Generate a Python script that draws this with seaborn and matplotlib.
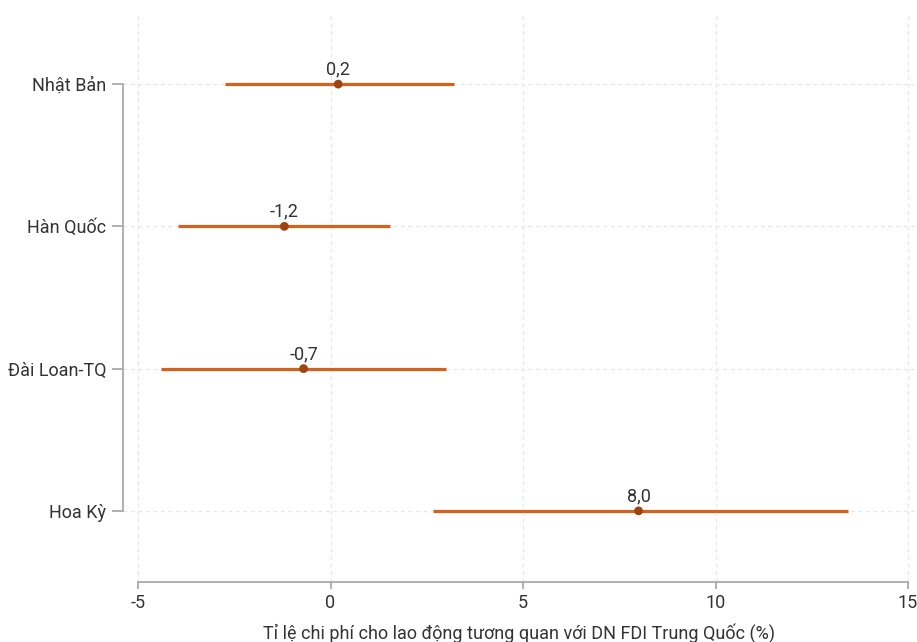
import matplotlib
matplotlib.use("Agg")
import matplotlib.pyplot as plt
import seaborn as sns
import pandas as pd

# datos
paises = ["Nhật Bản", "Hàn Quốc", "Đài Loan-TQ", "Hoa Kỳ"]
valor = [0.2, -1.2, -0.7, 8.0]
ci_bajo = [-2.75, -3.95, -4.4, 2.65]
ci_alto = [3.2, 1.55, 3.0, 13.45]
etiquetas = ["0,2", "-1,2", "-0,7", "8,0"]

df = pd.DataFrame({"pais": paises, "valor": valor, "lo": ci_bajo, "hi": ci_alto})

sns.set_style("white")
plt.rcParams["font.family"] = ["Roboto", "DejaVu Sans"]

fig = plt.figure(figsize=(9.17, 6.42), dpi=100)
ax = fig.add_axes([123 / 917, 1 - 582 / 642, (915 - 123) / 917, (582 - 13) / 642])

naranja = "#d4621c"
oscuro = "#9c4510"

# intervalos
ax.hlines(y=df["pais"], xmin=df["lo"], xmax=df["hi"], color=naranja, lw=2.3, zorder=3)
sns.scatterplot(data=df, x="valor", y="pais", color=oscuro, s=40, edgecolor="none", zorder=4, ax=ax)

for i, row in df.iterrows():
    ax.annotate(etiquetas[i], (row["valor"], i), xytext=(0, 4), textcoords="offset points",
                ha="center", va="bottom", fontsize=13, color="#333333")

ax.set_xlim(-5.39, 15.18)
ax.set_ylim(3.5, -0.5)
ax.set_xticks([-5, 0, 5, 10, 15])
ax.set_xticklabels(["-5", "0", "5", "10", "15"])

ax.grid(True, color="#e6e6e6", linestyle=(0, (3, 3)), lw=0.9)
ax.set_axisbelow(True)

ax.set_xlabel("Tỉ lệ chi phí cho lao động tương quan với DN FDI Trung Quốc (%)",
              fontsize=13, color="#333333", labelpad=8)
ax.set_ylabel("")
ax.tick_params(axis="both", labelsize=13, labelcolor="#333333", color="#aaaaaa", width=1.3,
               left=True, bottom=True)
ax.tick_params(axis="y", length=8, pad=4)
ax.tick_params(axis="x", length=5, pad=4)

sns.despine(ax=ax, trim=True)
for s in ["left", "bottom"]:
    ax.spines[s].set_color("#aaaaaa")
    ax.spines[s].set_linewidth(1.3)

fig.savefig("out.png", dpi=100)
